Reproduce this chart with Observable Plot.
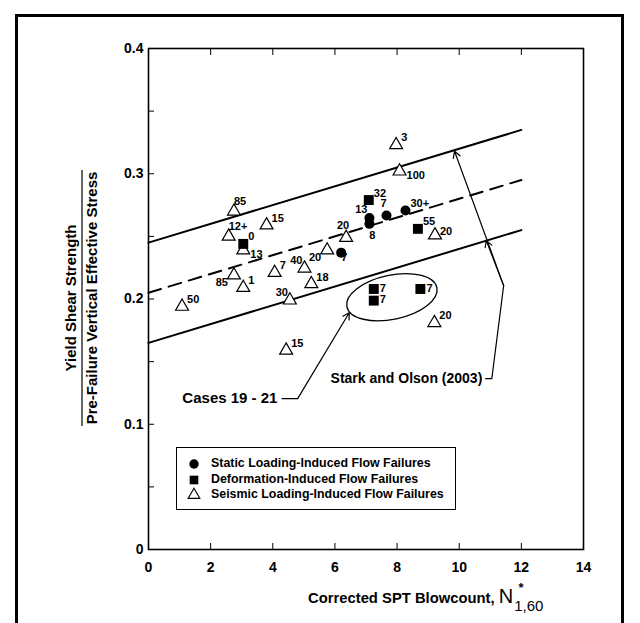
<!DOCTYPE html>
<html><head><meta charset="utf-8">
<script src="https://cdn.jsdelivr.net/npm/d3@7"></script>
<script src="https://cdn.jsdelivr.net/npm/@observablehq/plot@0.6"></script>
<style>
body{margin:0;background:#fff;}
#wrap{position:relative;width:640px;height:623px;overflow:hidden;font-family:"Liberation Sans",Arial,sans-serif;}
#border{position:absolute;left:15px;top:14px;width:609px;height:700px;border:3px solid #000;box-sizing:border-box;}
#legend{position:absolute;left:176px;top:447px;width:280px;height:63px;border:1.3px solid #000;box-sizing:border-box;font-weight:bold;font-size:12.4px;}
#legend .row{position:absolute;left:0;height:15px;line-height:15px;white-space:nowrap;}
#legend svg{position:absolute;left:10px;top:0;}
#legend span{position:absolute;left:34px;top:0;}
svg.plot{position:absolute;left:0;top:0;}
</style></head>
<body><div id="wrap"><div id="border"></div></div>
<script>
// ---------- data ----------
const xTicks = [0, 2, 4, 6, 8, 10, 12, 14];
const yTicks = [0, 0.1, 0.2, 0.3, 0.4];
const yMinorTicks = [0.05, 0.1, 0.15, 0.2, 0.25, 0.3, 0.35];

const seismicN     = [2.75, 2.58, 3.05, 3.80, 2.75, 3.05, 1.08, 4.06, 5.02, 4.55, 5.24, 5.75, 6.36, 7.97, 8.08, 9.22, 9.20, 4.43];
const seismicRatio = [0.270, 0.250, 0.239, 0.259, 0.219, 0.209, 0.194, 0.221, 0.2245, 0.199, 0.212, 0.239, 0.249, 0.323, 0.302, 0.251, 0.181, 0.159];
const seismicLabel = ["85", "12+", "13", "15", "85", "1", "50", "7", "40", "30", "18", "20", "20", "3", "100", "20", "20", "15"];
const seismicPlace = ["n+", "n+", "se", "ne", "sw", "ne", "ne", "ne", "nw", "nw", "ne", "sw", "n", "ne", "se", "e+", "ne", "ne"];

const staticN     = [6.20, 7.11, 7.11, 7.66, 8.27];
const staticRatio = [0.237, 0.2647, 0.260, 0.2666, 0.2706];
const staticLabel = ["7", "13", "8", "7", "30+"];
const staticPlace = ["sx", "nw", "s", "n", "ne"];

const deformN     = [3.05, 7.09, 8.67, 7.25, 7.25, 8.75];
const deformRatio = [0.244, 0.279, 0.256, 0.208, 0.1987, 0.208];
const deformLabel = ["0", "32", "55", "7", "7", "7"];
const deformPlace = ["ne", "ne", "ne", "e", "e", "e"];

// Stark and Olson (2003) trend line and bounds (endpoints at N = 0 and N = 12)
const boundN      = [0, 12];
const upperRatio  = [0.245, 0.335];
const trendRatio  = [0.205, 0.295];
const lowerRatio  = [0.165, 0.255];

const casesText = "Cases 19 - 21";
const starkText = "Stark and Olson (2003)";
const legendLabels = ["Static Loading-Induced Flow Failures", "Deformation-Induced Flow Failures", "Seismic Loading-Induced Flow Failures"];

// ---------- build ----------
const pts = [];
seismicN.forEach((n, i) => pts.push({type: "seismic", n, r: seismicRatio[i], label: seismicLabel[i], place: seismicPlace[i]}));
staticN.forEach((n, i) => pts.push({type: "static", n, r: staticRatio[i], label: staticLabel[i], place: staticPlace[i]}));
deformN.forEach((n, i) => pts.push({type: "deform", n, r: deformRatio[i], label: deformLabel[i], place: deformPlace[i]}));

const lineData = (ys) => boundN.map((n, i) => ({n, r: ys[i]}));

const placeStyle = {
  "ne": {textAnchor: "start", dx: 5, dy: -7},
  "n+": {textAnchor: "start", dx: 0, dy: -10},
  "e":  {textAnchor: "start", dx: 6, dy: -1},
  "e+": {textAnchor: "start", dx: 5, dy: -4},
  "se": {textAnchor: "start", dx: 7, dy: 4},
  "sw": {textAnchor: "end", dx: -6, dy: 7},
  "nw": {textAnchor: "end", dx: -2, dy: -8},
  "n":  {textAnchor: "middle", dx: -3, dy: -12},
  "s":  {textAnchor: "middle", dx: 3, dy: 12},
  "sx": {textAnchor: "start", dx: 0, dy: 5}
};
const labelMarks = Object.entries(placeStyle).map(([k, s]) =>
  Plot.text(pts.filter(d => d.place === k), {x: "n", y: "r", text: "label", ...s,
    fontSize: 11, fontWeight: "bold", fill: "#000"}));

const ell = {cx: 7.85, cy: 0.201, rx: 1.48, ry: 0.0176, angle: -12};

// annotation leader geometry (data coordinates)
const casesAt = {n: 4.15, r: 0.1205};
const starkAt = {n: 5.86, r: 0.1365};
const starkJoint = {n: 11.43, r: 0.2107};
const starkUpper = {n: 9.85, r: 0.318};
const starkLower = {n: 10.87, r: 0.2466};

const font = "'Liberation Sans', Arial, sans-serif";
const arrowStyle = {x1: "x1", y1: "y1", x2: "x2", y2: "y2", stroke: "#000", strokeWidth: 1.2, headLength: 9};
const plot = Plot.plot({
  width: 640, height: 623,
  marginLeft: 148, marginRight: 57, marginTop: 48, marginBottom: 74,
  x: {domain: [0, 14]},
  y: {domain: [0, 0.4]},
  style: {fontFamily: font, background: "transparent", color: "#000"},
  marks: [
    Plot.line(lineData(upperRatio), {x: "n", y: "r", stroke: "#000", strokeWidth: 2}),
    Plot.line(lineData(lowerRatio), {x: "n", y: "r", stroke: "#000", strokeWidth: 2}),
    Plot.line(lineData(trendRatio), {x: "n", y: "r", stroke: "#000", strokeWidth: 2, strokeDasharray: "13,8"}),
    Plot.axisX({anchor: "bottom", ticks: xTicks, tickSize: -6, tickFormat: () => "", label: null}),
    Plot.axisX({anchor: "top", ticks: xTicks, tickSize: -6, tickFormat: () => "", label: null}),
    Plot.axisY({anchor: "left", ticks: yMinorTicks, tickSize: -6, tickFormat: () => "", label: null}),
    Plot.axisX({anchor: "bottom", ticks: xTicks, tickSize: 0, tickPadding: 13, label: null,
      fontSize: 14, fontWeight: "bold"}),
    Plot.axisY({anchor: "left", ticks: yTicks, tickSize: 0, tickPadding: 5, label: null,
      tickFormat: d => d === 0 ? "0" : d.toFixed(1), fontSize: 14, fontWeight: "bold"}),
    Plot.frame({stroke: "#000", strokeWidth: 1.6}),
    Plot.dot([ell], {x: "cx", y: "cy", render(index, scales) {
      const cx = scales.x(ell.cx), cy = scales.y(ell.cy);
      const rx = scales.x(ell.cx + ell.rx) - cx, ry = cy - scales.y(ell.cy + ell.ry);
      const g = d3.create("svg:g");
      g.append("ellipse").attr("cx", cx).attr("cy", cy).attr("rx", rx).attr("ry", ry)
        .attr("transform", `rotate(${ell.angle},${cx},${cy})`)
        .attr("fill", "none").attr("stroke", "#000").attr("stroke-width", 1.3);
      return g.node();
    }}),
    // Cases 19 - 21 leader
    Plot.line([{n: 4.30, r: casesAt.r}, {n: 4.80, r: casesAt.r}], {x: "n", y: "r", stroke: "#000", strokeWidth: 1.2}),
    Plot.arrow([{x1: 4.80, y1: casesAt.r, x2: 6.46, y2: 0.189}], arrowStyle),
    // Stark and Olson leader
    Plot.line([{n: 10.85, r: starkAt.r}, {n: 11.05, r: starkAt.r}, {n: starkJoint.n, r: starkJoint.r}], {x: "n", y: "r", stroke: "#000", strokeWidth: 1.2}),
    Plot.arrow([{x1: starkJoint.n, y1: starkJoint.r, x2: starkUpper.n, y2: starkUpper.r}], arrowStyle),
    Plot.arrow([{x1: starkJoint.n, y1: starkJoint.r, x2: starkLower.n, y2: starkLower.r}], arrowStyle),
    Plot.text([casesText], {x: casesAt.n, y: casesAt.r, text: d => d, textAnchor: "end", fontSize: 15, fontWeight: "bold"}),
    Plot.text([starkText], {x: starkAt.n, y: starkAt.r, text: d => d, textAnchor: "start", fontSize: 14, fontWeight: "bold"}),
    Plot.dot(pts.filter(d => d.type === "seismic"), {x: "n", y: "r", symbol: "triangle", r: 4.8, fill: "#fff", stroke: "#000", strokeWidth: 1.2}),
    Plot.dot(pts.filter(d => d.type === "static"), {x: "n", y: "r", symbol: "circle", r: 5, fill: "#000"}),
    Plot.dot(pts.filter(d => d.type === "deform"), {x: "n", y: "r", symbol: "square", r: 5.6, fill: "#000"}),
    ...labelMarks
  ]
});
plot.classList.add("plot");
const wrap = document.getElementById("wrap");
wrap.appendChild(plot);

const svg = d3.select(plot);
const yt = svg.append("g").attr("transform", "translate(82,298) rotate(-90)")
  .attr("font-family", font).attr("font-weight", "bold").attr("font-size", 15).attr("text-anchor", "middle");
yt.append("text").attr("x", 0).attr("y", -6).text("Yield Shear Strength");
yt.append("line").attr("x1", -128).attr("x2", 128).attr("y1", 0).attr("y2", 0).attr("stroke", "#000").attr("stroke-width", 1.2);
yt.append("text").attr("x", 0).attr("y", 15).text("Pre-Failure Vertical Effective Stress");

const xt = svg.append("text").attr("x", 308).attr("y", 603).attr("font-family", font)
  .attr("font-weight", "bold").attr("font-size", 14.8).attr("text-anchor", "start");
xt.append("tspan").text("Corrected SPT Blowcount, ");
xt.append("tspan").attr("font-size", 20).attr("font-weight", "normal").text("N");
xt.append("tspan").attr("font-size", 15).attr("font-weight", "normal").attr("dx", 1).attr("dy", 8).text("1,60");
svg.append("text").attr("x", 521).attr("y", 592).attr("font-family", font).attr("font-size", 13)
  .attr("font-weight", "bold").text("*");

const legend = document.createElement("div");
legend.id = "legend";
const syms = [d3.symbolCircle, d3.symbolSquare, d3.symbolTriangle];
const tops = [8, 24, 39];
legendLabels.forEach((t, i) => {
  const row = document.createElement("div");
  row.className = "row"; row.style.top = tops[i] + "px";
  const s = d3.create("svg").attr("width", 14).attr("height", 15);
  s.append("path").attr("d", d3.symbol(syms[i], i === 2 ? 60 : (i === 1 ? 75 : 70))()).attr("transform", "translate(7,8)")
    .attr("fill", i === 2 ? "#fff" : "#000").attr("stroke", i === 2 ? "#000" : "none").attr("stroke-width", 1.1);
  row.appendChild(s.node());
  const sp = document.createElement("span"); sp.textContent = t; row.appendChild(sp);
  legend.appendChild(row);
});
wrap.appendChild(legend);
</script>
</body></html>
